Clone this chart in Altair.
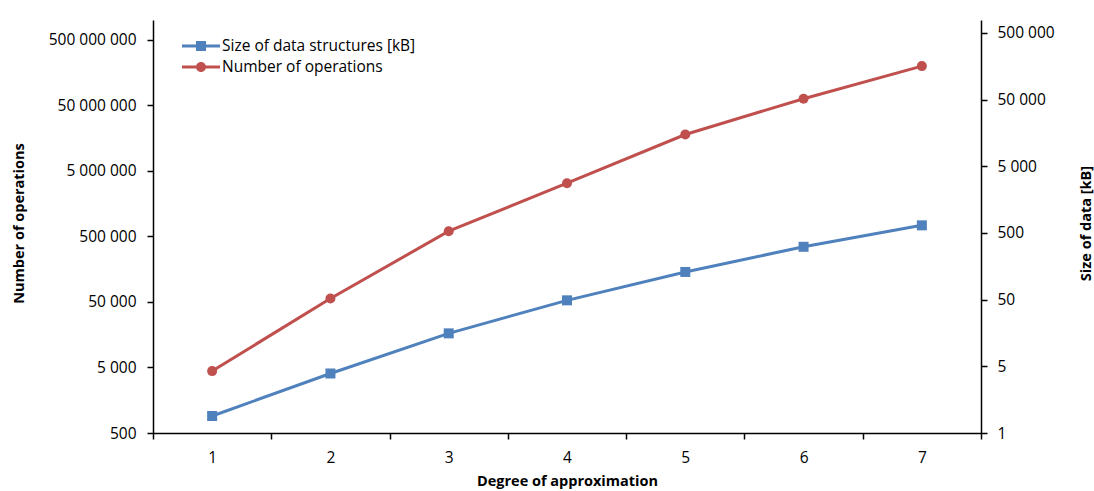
import altair as alt
import pandas as pd

# Degree of approximation on the category axis
degrees = [1, 2, 3, 4, 5, 6, 7]

# Left axis series: number of operations
operations = [4400, 56500, 600000, 3240000, 17900000, 63000000, 198000000]

# Right axis series: size of data structures in kB
size_kb = [0.9, 3.9, 15.6, 48.8, 130, 310, 650]

series_names = ["Size of data structures [kB]", "Number of operations"]
series_colors = ["#4F81BD", "#C0504D"]

ops_ticks = [500, 5000, 50000, 500000, 5000000, 50000000, 500000000]
ops_labels = ["500", "5 000", "50 000", "500 000", "5 000 000", "50 000 000", "500 000 000"]

size_ticks = [0.5, 5, 50, 500, 5000, 50000, 500000]
size_labels = ["1", "5", "50", "500", "5 000", "50 000", "500 000"]

FONT = "Open Sans"
BLUE, RED = series_colors


def label_expr(values, labels):
    expr = "''"
    for v, lab in reversed(list(zip(values, labels))):
        expr = f"datum.value == {v} ? '{lab}' : ({expr})"
    return expr


df = pd.DataFrame({"degree": degrees, "operations": operations, "size": size_kb})

x_enc = alt.X(
    "degree:O",
    bandPosition=0.5,
    scale=alt.Scale(type="band", paddingInner=0, paddingOuter=0),
    axis=alt.Axis(
        title="Degree of approximation",
        labelAngle=0,
        tickBand="extent",
        tickSize=6,
        labelPadding=11,
        titleY=52,
        titleBaseline="alphabetic",
    ),
)

y_ops = alt.Y(
    "operations:Q",
    scale=alt.Scale(type="log", domain=[500, 1e9], nice=False),
    axis=alt.Axis(
        title="Number of operations",
        orient="left",
        values=ops_ticks,
        labelExpr=label_expr(ops_ticks, ops_labels),
        tickSize=6,
        labelPadding=11,
        titleX=-134,
        titleY=203,
        titleAngle=270,
        titleBaseline="middle",
    ),
)

y_size = alt.Y(
    "size:Q",
    scale=alt.Scale(type="log", domain=[0.5, 7.8e5], nice=False),
    axis=alt.Axis(
        title="Size of data [kB]",
        orient="right",
        values=size_ticks,
        labelExpr=label_expr(size_ticks, size_labels),
        tickSize=6,
        labelPadding=10,
        titleX=105,
        titleY=203,
        titleAngle=270,
        titleBaseline="middle",
    ),
)

base = alt.Chart(df)

ops_layer = alt.layer(
    base.mark_line(color=RED, strokeWidth=3).encode(x=x_enc, y=y_ops),
    base.mark_point(filled=True, shape="circle", size=100, color=RED, opacity=1).encode(x=x_enc, y=y_ops),
)

size_layer = alt.layer(
    base.mark_line(color=BLUE, strokeWidth=3).encode(x=x_enc, y=y_size),
    base.mark_point(filled=True, shape="square", size=100, color=BLUE, opacity=1).encode(x=x_enc, y=y_size),
)

# Legend symbols: a short line with the series marker in the middle
sym_square = "M-1.9,-0.15H1.9V0.15H-1.9Z M-0.5,-0.5H0.5V0.5H-0.5Z"
sym_circle = "M-1.9,-0.15H1.9V0.15H-1.9Z M-0.5,0A0.5,0.5 0 1,1 0.5,0A0.5,0.5 0 1,1 -0.5,0Z"

legend_def = alt.Legend(
    title=None,
    orient="none",
    legendX=38,
    legendY=16,
    padding=0,
    symbolSize=400,
    symbolStrokeWidth=0,
    labelFont=FONT,
    labelFontSize=15.5,
    labelColor="#000000",
    labelOffset=11,
    labelLimit=400,
    rowPadding=2,
)

legend_df = pd.DataFrame({"series": series_names})
legend_layer = (
    alt.Chart(legend_df)
    .transform_filter("false")
    .mark_point(filled=True, opacity=1, size=400)
    .encode(
        color=alt.Color("series:N", scale=alt.Scale(domain=series_names, range=series_colors), legend=legend_def),
        shape=alt.Shape("series:N", scale=alt.Scale(domain=series_names, range=[sym_square, sym_circle]), legend=legend_def),
    )
)

chart = (
    alt.layer(ops_layer, size_layer, legend_layer)
    .resolve_scale(y="independent")
    .properties(
        width=828,
        height=413,
        autosize=alt.AutoSizeParams(type="none"),
        padding={"left": 153, "top": 20, "right": 113, "bottom": 58},
        background="white",
    )
    .configure_view(stroke=None)
    .configure_axis(
        grid=False,
        labelFont=FONT,
        labelFontSize=15.5,
        labelColor="#000000",
        titleFont=FONT,
        titleFontSize=14.5,
        titleFontWeight="bold",
        titleColor="#000000",
        domainColor="#000000",
        domainWidth=1.5,
        tickColor="#000000",
        tickWidth=1.5,
    )
)

chart.save("out.html", embed_options={"renderer": "svg", "actions": False})
